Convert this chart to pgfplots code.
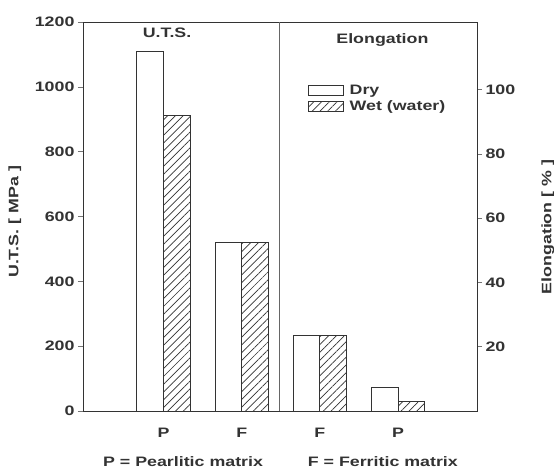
\documentclass[border=0pt]{standalone}
\usepackage{fontspec}
\setmainfont{Liberation Sans}[FakeStretch=1.3]
\usepackage{pgfplots}
\pgfplotsset{compat=1.18}
\usetikzlibrary{patterns.meta}
\newcommand\f{\fontsize{13.7}{16}\selectfont\bfseries}
\colorlet{ink}{black!80}
\pgfplotsset{
  base/.style={
    at={(0,0)}, anchor=south west,
    width=394pt, height=389pt, scale only axis,
    xmin=-1.03, xmax=4.01,
    clip=false,
    axis line style={draw=ink, line width=0.9pt},
    tick style={draw=black!55, line width=0.6pt},
    tick align=outside, major tick length=5pt,
    every tick label/.append style={font=\f, text=ink},
    /pgf/number format/assume math mode=true,
    /pgf/number format/set thousands separator={},
    every axis y label/.style={font=\f, text=ink, rotate=90, anchor=center},
    ybar=0pt, bar width=0.34,
  },
  drystyle/.style={draw=ink, line width=0.9pt, fill=white},
  wetstyle/.style={draw=ink, line width=0.9pt, fill=white,
    postaction={pattern={Lines[angle=45,distance=5.5pt,line width=0.7pt]}, pattern color=ink}},
}
\begin{document}
\begin{tikzpicture}
\useasboundingbox (-83pt,-59pt) rectangle (471pt,411pt);
\begin{axis}[base,
  ymin=0, ymax=1200, ytick={0,200,...,1200}, ytick pos=left,
  xtick={0,1,2,3}, xticklabels={P,F,F,P}, xtick pos=bottom,
  xtick style={draw=none},
  xticklabel style={yshift=-9pt},
  ylabel={U.T.S.\ [ MPa ]},
  ylabel style={at={(axis description cs:-0.173,0.486)}},
  legend style={at={(axis description cs:0.57,0.845)}, anchor=north west,
    draw=none, fill=none, font=\f, text=ink, row sep=0pt,
    inner sep=0pt, nodes={inner xsep=6pt, inner ysep=2.5pt}},
  legend image code/.code={\draw[#1] (0pt,-5pt) rectangle (35pt,5pt);},
  legend cell align=left,
]
\addplot[drystyle] coordinates {(0,1110) (1,519)};
\addlegendentry{Dry}
\addplot[wetstyle] coordinates {(0,912) (1,519)};
\addlegendentry{Wet (water)}
\draw[black!60, line width=0.7pt] (axis cs:1.48,0) -- (axis cs:1.48,1200);
\node[font=\f, text=ink] at (axis cs:0.045,1166) {U.T.S.};
\node[font=\f, text=ink] at (axis cs:2.80,1144) {Elongation};
\node[font=\f, text=ink] at (axis description cs:0.254,-0.13) {P = Pearlitic matrix};
\node[font=\f, text=ink] at (axis description cs:0.761,-0.13) {F = Ferritic matrix};
\end{axis}
\begin{axis}[base,
  ymin=0, ymax=121, ytick={20,40,...,100},
  axis y line*=right, axis x line=none,
  ylabel={Elongation [ \% ]},
  ylabel style={at={(axis description cs:1.18,0.473)}},
]
\addplot[drystyle] coordinates {(2,23.5) (3,7.4)};
\addplot[wetstyle] coordinates {(2,23.5) (3,3.1)};
\end{axis}
\end{tikzpicture}
\end{document}
